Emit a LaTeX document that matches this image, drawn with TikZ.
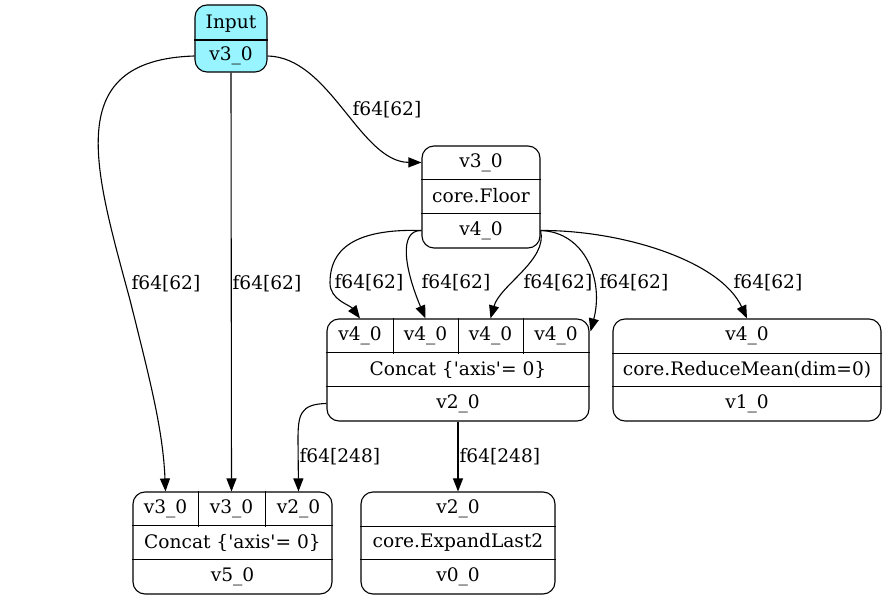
\documentclass[tikz,border=0pt]{standalone}
\usepackage{fontspec}
\setmainfont{DejaVu Serif}
\usepackage{tikz}
\usetikzlibrary{arrows.meta}
\definecolor{inputcol}{HTML}{98F5FF}

\begin{document}
\begin{tikzpicture}[x=1pt,y=-1pt,line width=1.1pt,
  rec/.style={draw, rounded corners=12pt, inner sep=0pt},
  fld/.style={inner sep=0pt, font=\fontsize{18.6}{21}\selectfont},
  lbl/.style={anchor=west, inner sep=0pt, font=\fontsize{18.6}{21}\selectfont},
  edge/.style={-{Triangle[length=13pt,width=10pt]}}]
\useasboundingbox (0,0) rectangle (887,601);
% Input
\node[rec, fill=inputcol, minimum width=72pt, minimum height=67pt] (inp) at (231,38.5) {};
\node[fld, minimum width=72pt, minimum height=35pt] (inp-op) at (231,23.5) {Input};
\node[fld, minimum width=72pt, minimum height=32pt] (inp-out) at (231,56) {v3\_0};
\draw (inp.west |- 0,40) -- (inp.east |- 0,40);
% core.Floor
\node[rec, minimum width=118pt, minimum height=102pt] (fl) at (481,197) {};
\node[fld, minimum width=118pt, minimum height=33pt] (fl-in) at (481,162.5) {v3\_0};
\node[fld, minimum width=118pt, minimum height=34pt] (fl-op) at (481,196) {core.Floor};
\node[fld, minimum width=118pt, minimum height=35pt] (fl-out) at (481,230.5) {v4\_0};
\draw (fl-in.south west) -- (fl-in.south east);
\draw (fl-op.south west) -- (fl-op.south east);
% Concat -> v2_0
\node[rec, minimum width=262pt, minimum height=102pt] (cat1) at (458,370) {};
\node[fld, minimum width=66pt, minimum height=34pt] (cat1-a) at (360,336) {v4\_0};
\node[fld, minimum width=65pt, minimum height=34pt] (cat1-b) at (425.5,336) {v4\_0};
\node[fld, minimum width=65pt, minimum height=34pt] (cat1-c) at (490.5,336) {v4\_0};
\node[fld, minimum width=66pt, minimum height=34pt] (cat1-d) at (556,336) {v4\_0};
\node[fld, minimum width=262pt, minimum height=33pt] (cat1-op) at (458,369.5) {Concat \{\textquotesingle axis\textquotesingle= 0\}};
\node[fld, minimum width=262pt, minimum height=35pt] (cat1-out) at (458,403.5) {v2\_0};
\draw (cat1-op.north west) -- (cat1-op.north east);
\draw (cat1-op.south west) -- (cat1-op.south east);
\draw (cat1-a.north east) -- (cat1-a.south east);
\draw (cat1-b.north east) -- (cat1-b.south east);
\draw (cat1-c.north east) -- (cat1-c.south east);
% core.ReduceMean
\node[rec, minimum width=268pt, minimum height=102pt] (rm) at (747,370) {};
\node[fld, minimum width=268pt, minimum height=34pt] (rm-in) at (747,336) {v4\_0};
\node[fld, minimum width=268pt, minimum height=33pt] (rm-op) at (747,369.5) {core.ReduceMean(dim=0)};
\node[fld, minimum width=268pt, minimum height=35pt] (rm-out) at (747,403.5) {v1\_0};
\draw (rm-in.south west) -- (rm-in.south east);
\draw (rm-op.south west) -- (rm-op.south east);
% Concat -> v5_0
\node[rec, minimum width=199pt, minimum height=102pt] (cat2) at (232.5,543) {};
\node[fld, minimum width=65pt, minimum height=34pt] (cat2-a) at (165.5,509) {v3\_0};
\node[fld, minimum width=67pt, minimum height=34pt] (cat2-b) at (231.5,509) {v3\_0};
\node[fld, minimum width=67pt, minimum height=34pt] (cat2-c) at (298.5,509) {v2\_0};
\node[fld, minimum width=199pt, minimum height=33pt] (cat2-op) at (232.5,542.5) {Concat \{\textquotesingle axis\textquotesingle= 0\}};
\node[fld, minimum width=199pt, minimum height=35pt] (cat2-out) at (232.5,576.5) {v5\_0};
\draw (cat2-op.north west) -- (cat2-op.north east);
\draw (cat2-op.south west) -- (cat2-op.south east);
\draw (cat2-a.north east) -- (cat2-a.south east);
\draw (cat2-b.north east) -- (cat2-b.south east);
% core.ExpandLast2
\node[rec, minimum width=194pt, minimum height=102pt] (ex) at (458,543) {};
\node[fld, minimum width=194pt, minimum height=34pt] (ex-in) at (458,509) {v2\_0};
\node[fld, minimum width=194pt, minimum height=33pt] (ex-op) at (458,542.5) {core.ExpandLast2};
\node[fld, minimum width=194pt, minimum height=35pt] (ex-out) at (458,576.5) {v0\_0};
\draw (ex-in.south west) -- (ex-in.south east);
\draw (ex-op.south west) -- (ex-op.south east);
% edges
\draw[edge] (inp-out.west) .. controls (60,60) and (95,170) .. (130,300) .. controls (150,380) and (163,430) .. (cat2-a.north);
\node[lbl] (e1) at (131,284) {f64[62]};
\draw[edge] (inp-out.south) -- (cat2-b.north);
\node[lbl] (e2) at (232,284) {f64[62]};
\draw[edge] (inp-out.east) .. controls (330,57) and (360,162) .. (fl-in.west);
\node[lbl] (e3) at (352,110) {f64[62]};
\draw[edge] (fl-out.west) .. controls (340,228) and (330,260) .. (330,283) .. controls (330,300) and (350,305) .. (cat1-a.north);
\node[lbl] (e4) at (334,283) {f64[62]};
\draw[edge] (fl-out.west) .. controls (398,230) and (405,270) .. (cat1-b.north);
\node[lbl] (e5) at (421,283) {f64[62]};
\draw[edge] (fl-out.east) .. controls (548,260) and (500,285) .. (cat1-c.north);
\node[lbl] (e6) at (523,283) {f64[62]};
\draw[edge] (fl-out.east) .. controls (585,232) and (604,280) .. ([shift={(1,13)}]cat1-d.north east);
\node[lbl] (e7) at (599,283) {f64[62]};
\draw[edge] (fl-out.east) .. controls (620,230) and (720,260) .. (rm-in.north);
\node[lbl] (e8) at (733,283) {f64[62]};
\draw[edge] (cat1-out.west) .. controls (300,404) and (298,415) .. (298,440) -- (cat2-c.north);
\node[lbl] (e9) at (299,457) {f64[248]};
\draw[edge] (cat1-out.south) -- (ex-in.north);
\node[lbl] (e10) at (459,457) {f64[248]};
\end{tikzpicture}
\end{document}
